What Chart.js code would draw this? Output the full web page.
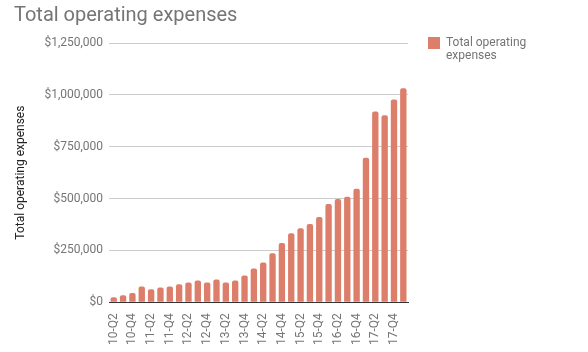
<!DOCTYPE html>
<html>
<head>
<meta charset="utf-8">
<script src="https://cdn.jsdelivr.net/npm/chart.js@4"></script>
<style>
  body { margin: 0; background: #fff; }
  #wrap { position: relative; width: 588px; height: 352px; }
  #legend {
    position: absolute; left: 428px; top: 36px;
    font: 12px Roboto, sans-serif; color: #757575; line-height: 13px;
  }
  #legend .box {
    position: absolute; left: 0; top: 1px; width: 12px; height: 12px; background: #dd7e6b;
  }
  #legend .txt { margin-left: 18px; }
</style>
</head>
<body>
<div id="wrap">
  <canvas id="myChart"></canvas>
  <div id="legend"><span class="box"></span><div class="txt">Total operating<br>expenses</div></div>
</div>
<script>
// quarters 10-Q2 .. 18-Q1
const quarters = [
  '10-Q2', '10-Q3', '10-Q4',
  '11-Q1', '11-Q2', '11-Q3', '11-Q4',
  '12-Q1', '12-Q2', '12-Q3', '12-Q4',
  '13-Q1', '13-Q2', '13-Q3', '13-Q4',
  '14-Q1', '14-Q2', '14-Q3', '14-Q4',
  '15-Q1', '15-Q2', '15-Q3', '15-Q4',
  '16-Q1', '16-Q2', '16-Q3', '16-Q4',
  '17-Q1', '17-Q2', '17-Q3', '17-Q4',
  '18-Q1'
];
const expenses = [
  24000, 34000, 44000,
  76000, 63000, 71000, 76000,
  86000, 95000, 105000, 95000,
  110000, 95000, 105000, 129000,
  163000, 192000, 236000, 285000,
  333000, 357000, 377000, 411000,
  474000, 498000, 508000, 547000,
  697000, 920000, 901000, 978000,
  1032000
];
const yTicks = [0, 250000, 500000, 750000, 1000000, 1250000];

const grey = '#757575';
Chart.defaults.font.family = 'Roboto, sans-serif';

new Chart(document.getElementById('myChart'), {
  type: 'bar',
  data: {
    labels: quarters,
    datasets: [{
      label: 'Total operating expenses',
      data: expenses,
      backgroundColor: '#dd7e6b',
      borderRadius: { topLeft: 2, topRight: 2 },
      borderSkipped: 'bottom',
      barPercentage: 0.68,
      categoryPercentage: 1
    }]
  },
  options: {
    responsive: true,
    maintainAspectRatio: false,
    animation: false,
    layout: { padding: { left: 14, right: 180, top: 0, bottom: 4 } },
    plugins: {
      legend: { display: false },
      tooltip: { enabled: false },
      title: {
        display: true,
        text: 'Total operating expenses',
        align: 'start',
        color: grey,
        font: { size: 20, weight: 'normal' },
        padding: { top: 4, bottom: 15 }
      }
    },
    scales: {
      x: {
        grid: { display: false },
        border: { color: '#333', width: 1 },
        ticks: {
          autoSkip: false,
          maxRotation: 90,
          minRotation: 90,
          color: grey,
          font: { size: 12 },
          padding: 3,
          callback: function (v, i) { return i % 2 === 0 ? quarters[i] : ''; }
        }
      },
      y: {
        min: 0,
        max: 1250000,
        afterBuildTicks: function (axis) { axis.ticks = yTicks.map(v => ({ value: v })); },
        grid: { color: '#cccccc', drawTicks: false },
        border: { display: false },
        ticks: {
          color: grey,
          font: { size: 12 },
          padding: 6,
          callback: function (v) { return '$' + v.toLocaleString('en-US'); }
        },
        title: {
          display: true,
          text: 'Total operating expenses',
          color: '#222',
          font: { size: 12 },
          padding: { top: 0, bottom: 10 }
        }
      }
    }
  }
});
</script>
</body>
</html>
